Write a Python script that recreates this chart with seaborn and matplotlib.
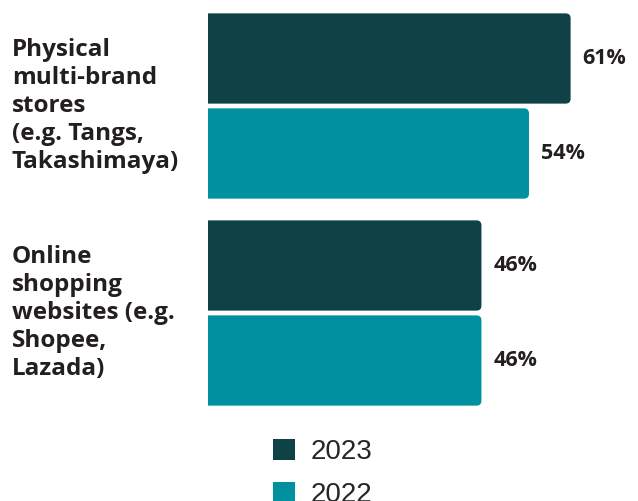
import matplotlib
matplotlib.use("Agg")
import matplotlib.pyplot as plt
from matplotlib.patches import FancyBboxPatch, Patch
from matplotlib.transforms import blended_transform_factory
import pandas as pd
import seaborn as sns

# Survey data
channels = [
    "Physical\nmulti-brand\nstores\n(e.g. Tangs,\nTakashimaya)",
    "Online\nshopping\nwebsites (e.g.\nShopee,\nLazada)",
]
years = ["2023", "2022"]
share_2023 = [61, 46]
share_2022 = [54, 46]
colors = {"2023": "#0E4247", "2022": "#0091A1"}

df = pd.DataFrame({
    "channel": channels * 2,
    "year": [years[0]] * len(channels) + [years[1]] * len(channels),
    "share": share_2023 + share_2022,
})

sns.set_theme(style="white")
plt.rcParams["font.family"] = ["Open Sans", "DejaVu Sans"]
text_color = "#231F20"

fig = plt.figure(figsize=(6.38, 5.01), dpi=100)
ax = fig.add_axes([208 / 638, 84.5 / 501, 428 / 638, 414 / 501])

sns.barplot(data=df, y="channel", x="share", hue="year", hue_order=years,
            palette=colors, orient="h", width=0.918, gap=0.05,
            saturation=1, ax=ax, legend=False)

ax.set_xlim(0, 72)
ax.set_ylim(1.5, -0.5)

# Swap the plain rectangles for bars with rounded right-hand corners
px_per_x = 428 / 72
px_per_y = 414 / 2
radius_px = 5
for bar in list(ax.patches):
    x0, y0 = bar.get_x(), bar.get_y()
    w, h = bar.get_width(), bar.get_height()
    if w <= 0 or h <= 0:
        continue
    fc = bar.get_facecolor()
    bar.set_visible(False)
    shift = radius_px * 2 / px_per_x
    rounded = FancyBboxPatch(
        (x0 - shift, y0), w + shift, h,
        boxstyle=f"round,pad=0,rounding_size={radius_px / px_per_x}",
        mutation_aspect=px_per_x / px_per_y,
        facecolor=fc, edgecolor="none", clip_on=True, zorder=2,
    )
    ax.add_patch(rounded)
    ax.annotate(f"{w:.0f}%", xy=(x0 + w, y0 + h / 2), xytext=(8.5, 0),
                textcoords="offset points", ha="left", va="center",
                fontsize=15.5, fontweight="bold", color=text_color)

# Category labels, left-aligned at the figure edge
trans = blended_transform_factory(fig.transFigure, ax.transData)
for i, name in enumerate(channels):
    ax.text(12 / 638, i, name, transform=trans, ha="left", va="center",
            multialignment="left", fontsize=17.5, fontweight="bold",
            color=text_color, linespacing=1.22)

ax.set_yticks([])
ax.set_xticks([])
ax.set_xlabel("")
ax.set_ylabel("")
sns.despine(ax=ax, left=True, bottom=True)

handles = [Patch(facecolor=colors[y], edgecolor="none") for y in years]
fig.legend(handles, years, loc="upper left",
           bbox_to_anchor=(270 / 638, 1 - 436 / 501),
           frameon=False, prop={"family": "Liberation Sans", "size": 20},
           handlelength=0.8, handleheight=0.8, handletextpad=0.55,
           labelspacing=0.6, borderpad=0.1, borderaxespad=0)

fig.savefig("out.png", dpi=100)
